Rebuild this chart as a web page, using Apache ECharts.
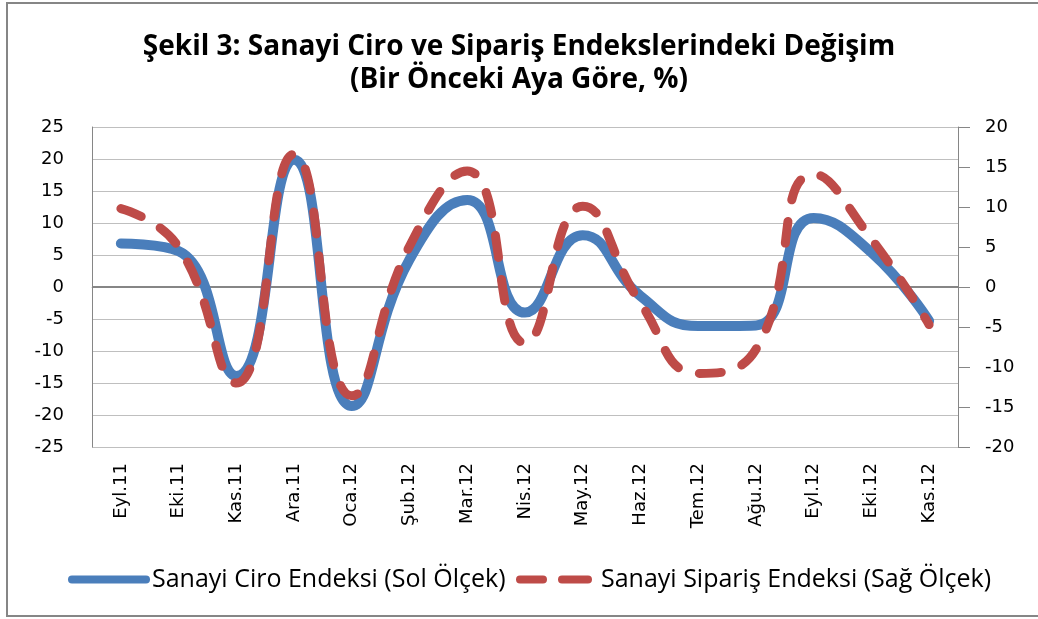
<!DOCTYPE html>
<html>
<head>
<meta charset="utf-8">
<script src="https://cdn.jsdelivr.net/npm/echarts@6/dist/echarts.min.js"></script>
<style>html,body{margin:0;padding:0;background:#fff}#c{width:1038px;height:619px}</style>
</head>
<body>
<div id="c"></div>
<script>
var categories = ['Eyl.11','Eki.11','Kas.11','Ara.11','Oca.12','Şub.12','Mar.12','Nis.12','May.12','Haz.12','Tem.12','Ağu.12','Eyl.12','Eki.12','Kas.12'];
var ciro = [6.8, 5.6, -13.9, 19.9, -18.6, 4.3, 13.6, -4.0, 8.1, -1.4, -6.1, -6.0, 10.8, 5.4, -5.3];
var siparis = [9.8, 5.0, -12.0, 16.6, -13.6, 5.1, 14.5, -7.0, 10.1, -2.0, -10.8, -7.8, 14.1, 6.0, -4.7];
var seriesNames = ['Sanayi Ciro Endeksi (Sol Ölçek)', 'Sanayi Sipariş Endeksi (Sağ Ölçek)'];

var BLUE = '#4A7EBB', RED = '#BE4B48';
var chart = echarts.init(document.getElementById('c'));
var axisFont = 'DejaVu Sans';
chart.setOption({
  animation: false,
  backgroundColor: '#fff',
  graphic: [{
    type: 'rect', shape: {x: 7, y: 3, width: 1040, height: 613},
    style: {fill: 'none', stroke: '#868686', lineWidth: 2}, silent: true, z: -1
  }],
  title: {
    text: 'Şekil 3: Sanayi Ciro ve Sipariş Endekslerindeki Değişim\n(Bir Önceki Aya Göre, %)',
    left: 'center', top: 26,
    textStyle: {fontFamily: 'Open Sans', fontWeight: 'bold', fontSize: 28, lineHeight: 33, color: '#000'}
  },
  legend: [{
    left: 68, top: 567, padding: 0, itemWidth: 82, itemHeight: 8,
    textStyle: {fontFamily: 'Open Sans', fontSize: 25, color: '#000', padding: [0, 0, 0, -3]},
    data: [{name: seriesNames[0], icon: 'path://M4,0 H78 A4,4 0 0 1 78,8 H4 A4,4 0 0 1 4,0 Z'}]
  }, {
    left: 516, top: 567, padding: 0, itemWidth: 76, itemHeight: 8,
    textStyle: {fontFamily: 'Open Sans', fontSize: 25, color: '#000', padding: [0, 0, 0, 4]},
    data: [{name: seriesNames[1], icon: 'path://M4,0 H27 A4,4 0 0 1 27,8 H4 A4,4 0 0 1 4,0 Z M46,0 H72 A4,4 0 0 1 72,8 H46 A4,4 0 0 1 46,0 Z'}]
  }],
  grid: {left: 92, right: 80, top: 127, bottom: 172},
  xAxis: {
    type: 'category', data: categories, boundaryGap: true,
    axisLine: {lineStyle: {color: '#BFBFBF', width: 1}},
    axisTick: {show: false},
    axisLabel: {rotate: 90, margin: 16, fontFamily: axisFont, fontSize: 18, color: '#000'}
  },
  yAxis: [{
    type: 'value', min: -25, max: 25, interval: 5, position: 'left',
    axisLine: {show: true, lineStyle: {color: '#868686'}},
    axisTick: {show: false},
    splitLine: {show: true, lineStyle: {color: '#BFBFBF', width: 1}},
    axisLabel: {margin: 28, fontFamily: axisFont, fontSize: 18, color: '#000'}
  }, {
    type: 'value', min: -20, max: 20, interval: 5, position: 'right',
    axisLine: {show: true, lineStyle: {color: '#868686'}},
    axisTick: {show: true, inside: false, length: 12, lineStyle: {color: '#868686'}},
    splitLine: {show: false},
    axisLabel: {margin: 27, fontFamily: axisFont, fontSize: 18, color: '#000'}
  }],
  series: [{
    name: seriesNames[0], type: 'line', yAxisIndex: 0, data: ciro,
    smooth: 0.5, showSymbol: false, symbol: 'none',
    lineStyle: {color: BLUE, width: 10, cap: 'round', join: 'round'},
    itemStyle: {color: BLUE},
    markLine: {
      silent: true, symbol: 'none', label: {show: false},
      lineStyle: {color: '#868686', width: 2, type: 'solid'},
      data: [{yAxis: 0}], z: 1
    },
    z: 3
  }, {
    name: seriesNames[1], type: 'line', yAxisIndex: 1, data: siparis,
    smooth: 0.5, showSymbol: false, symbol: 'none',
    lineStyle: {color: RED, width: 9, type: [22, 22], cap: 'round', join: 'round'},
    itemStyle: {color: RED},
    z: 4
  }]
});
</script>
</body>
</html>
